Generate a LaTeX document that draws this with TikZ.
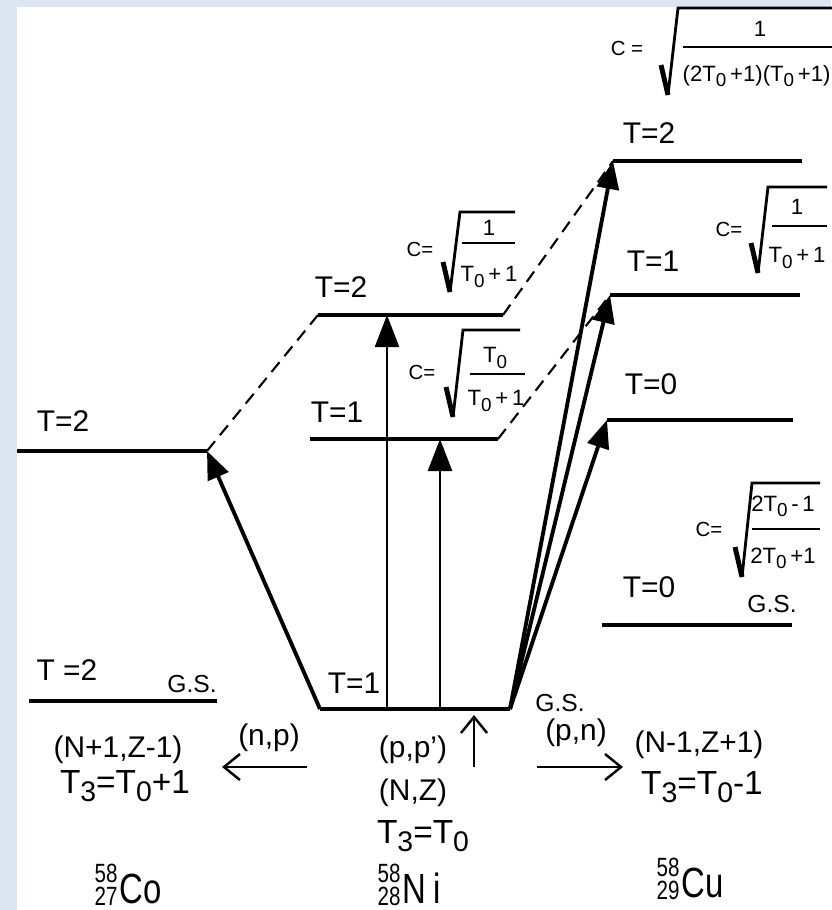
\documentclass[tikz,border=0pt]{standalone}
\usepackage{fontspec}
\setmainfont{Liberation Sans}
\newfontfamily\narrowfont[FakeStretch=0.78]{Liberation Sans}
\usetikzlibrary{arrows.meta}
\definecolor{bgblue}{HTML}{DCE6F2}

\tikzset{
  level/.style={line width=0.9pt},
  mixing/.style={line width=0.6pt, dash pattern=on 3.6pt off 2.2pt},
  excite/.style={line width=1.1pt, -{Triangle[length=2.8mm,width=2.2mm]}},
  exciteup/.style={line width=0.7pt, -{Triangle[length=3.2mm,width=2.4mm]}},
  react/.style={line width=0.7pt, -{Straight Barb[length=1.6mm,width=2.6mm]}},
  lvlname/.style={font=\fontsize{8.5}{9}\selectfont},
  gsname/.style={font=\fontsize{7}{8}\selectfont},
  ctext/.style={font=\fontsize{5.8}{6}\selectfont},
  fracpart/.style={font=\fontsize{6.3}{7}\selectfont, inner sep=0pt},
  chargetxt/.style={font=\fontsize{8.5}{10}\selectfont},
  isospin/.style={font=\fontsize{9.5}{11}\selectfont},
  nucl/.style={font=\fontsize{12}{12}\narrowfont, anchor=base},
}

% radical sign: bottom x, bottom y, top y, end of top bar
\newcommand{\rootsign}[4]{%
  \draw[line width=1.4pt] (#1-7,#2-30) -- (#1,#2);
  \draw[line width=0.8pt] (#1,#2) -- (#1+10,#3) -- (#4,#3);}
% large low index as printed
\newcommand{\idx}[1]{\raisebox{-0.45ex}{\scalebox{0.85}{#1}}}
% mass and charge numbers
\newcommand{\az}[2]{{\fontsize{7.5}{6}\narrowfont\rlap{\raisebox{0.78em}{#1}}\raisebox{-0.1em}{#2}}\kern0.5pt}

\begin{document}
\begin{tikzpicture}[x=0.01cm,y=-0.01cm]
\useasboundingbox (0,0) rectangle (831,910);
\fill[bgblue] (0,0) rectangle (831,910);
\fill[white] (17,7) rectangle (831,910);

% level ends
\coordinate (co2L) at (17,451);   \coordinate (co2R) at (207,451);
\coordinate (cogsL) at (29,701);  \coordinate (cogsR) at (217,701);
\coordinate (nigsL) at (320,709); \coordinate (nigsR) at (510,709);
\coordinate (ni1L) at (310,439);  \coordinate (ni1R) at (498,439);
\coordinate (ni2L) at (318,315);  \coordinate (ni2R) at (503,315);
\coordinate (cu2L) at (613,161);  \coordinate (cu2R) at (802,161);
\coordinate (cu1L) at (610,295);  \coordinate (cu1R) at (800,295);
\coordinate (cu0L) at (607,420);  \coordinate (cu0R) at (793,420);
\coordinate (cugsL) at (602,625); \coordinate (cugsR) at (792,625);

\draw[level] (co2L) -- (co2R);
\draw[level] (cogsL) -- (cogsR);
\draw[level] (nigsL) -- (nigsR);
\draw[level] (ni1L) -- (ni1R);
\draw[level] (ni2L) -- (ni2R);
\draw[level] (cu2L) -- (cu2R);
\draw[level] (cu1L) -- (cu1R);
\draw[level] (cu0L) -- (cu0R);
\draw[level] (cugsL) -- (cugsR);

% analog states
\draw[mixing] (co2R) -- (ni2L);
\draw[mixing] (ni2R) -- (cu2L);
\draw[mixing] (ni1R) -- (cu1L);

% transitions
\coordinate (up2) at (387,709);
\coordinate (up1) at (440,709);
\draw[exciteup] (up2) -- (up2 |- ni2L);
\draw[exciteup] (up1) -- (up1 |- ni1L);
\draw[excite] (nigsL) -- (co2R);
\draw[excite] (nigsR) -- (cu2L);
\draw[excite] (nigsR) -- (cu1L);
\draw[excite] (nigsR) -- (cu0L);

\node[lvlname] (co2lab) at (63,421) {T=2};
\node[lvlname] (cogslab) at (67,670) {T =2};
\node[gsname] (cogs) at (192,684) {G.S.};
\node[lvlname] (nigslab) at (354,683) {T=1};
\node[gsname] (nigs) at (560,703) {G.S.};
\node[lvlname] (ni1lab) at (337,412) {T=1};
\node[lvlname] (ni2lab) at (341,287) {T=2};
\node[lvlname] (cu2lab) at (649,133) {T=2};
\node[lvlname] (cu1lab) at (653,261) {T=1};
\node[lvlname] (cu0lab) at (651,384) {T=0};
\node[lvlname] (cugslab) at (649,587) {T=0};
\node[gsname] (cugs) at (772,604) {G.S.};

% coefficients
\rootsign{450}{292}{212}{515}
\draw[line width=0.7pt] (462,243) -- (515,243);
\node[ctext] (c1) at (420,249) {C=};
\node[fracpart] (n1) at (489,228) {1};
\node[fracpart] (d1) at (489,277) {T\idx{0}\,+\,1};

\rootsign{453}{417}{330}{520}
\draw[line width=0.7pt] (470,374) -- (525,374);
\node[ctext] (c2) at (422,372) {C=};
\node[fracpart] (n2) at (495,358) {T\idx{0}};
\node[fracpart] (d2) at (496,401) {T\idx{0}\,+\,1};

\rootsign{758}{273}{187}{827}
\draw[line width=0.7pt] (772,226) -- (827,226);
\node[ctext] (c3) at (729,229) {C=};
\node[fracpart] (n3) at (797,207) {1};
\node[fracpart] (d3) at (797,258) {T\idx{0}\,+\,1};

\rootsign{742}{577}{483}{820}
\draw[line width=0.7pt] (752,529) -- (820,529);
\node[ctext] (c4) at (709,529) {C=};
\node[fracpart] (n4) at (783,506) {2T\idx{0}\,-\,1};
\node[fracpart] (d4) at (783,558) {2T\idx{0}\,+1};

\rootsign{668}{95}{8}{850}
\draw[line width=0.7pt] (683,47) -- (850,47);
\node[ctext] (c5) at (627,48) {C =};
\node[fracpart] (n5) at (760,29) {1};
\node[fracpart, anchor=west] (d5) at (682,76) {(2T\idx{0}\,+1)(T\idx{0}\,+1)};

% reactions
\coordinate (npS) at (307,767); \coordinate (npE) at (222,767);
\coordinate (ppS) at (474,767); \coordinate (ppE) at (474,715);
\coordinate (pnS) at (537,767); \coordinate (pnE) at (623,767);
\draw[react] (npS) -- (npE);
\draw[react] (ppS) -- (ppE);
\draw[react] (pnS) -- (pnE);

\node[chargetxt] (np) at (269,738) {(n,p)};
\node[chargetxt] (ppp) at (413,750) {(p,p')};
\node[chargetxt] (pn) at (576,733) {(p,n)};
\node[chargetxt] (coNZ) at (118,750) {(N+1,Z-1)};
\node[isospin] (coT) at (125,786) {T\idx{3}=T\idx{0}+1};
\node[chargetxt] (niNZ) at (413,793) {(N,Z)};
\node[isospin] (niT) at (423,836) {T\idx{3}=T\idx{0}};
\node[chargetxt] (cuNZ) at (699,745) {(N-1,Z+1)};
\node[isospin] (cuT) at (702,787) {T\idx{3}=T\idx{0}-1};

\node[nucl] (co) at (128,903) {\az{58}{27}Co};
\node[nucl] (ni) at (409,903) {\az{58}{28}N\kern2pt i};
\node[nucl] (cu) at (690,897) {\az{58}{29}Cu};
\end{tikzpicture}
\end{document}
